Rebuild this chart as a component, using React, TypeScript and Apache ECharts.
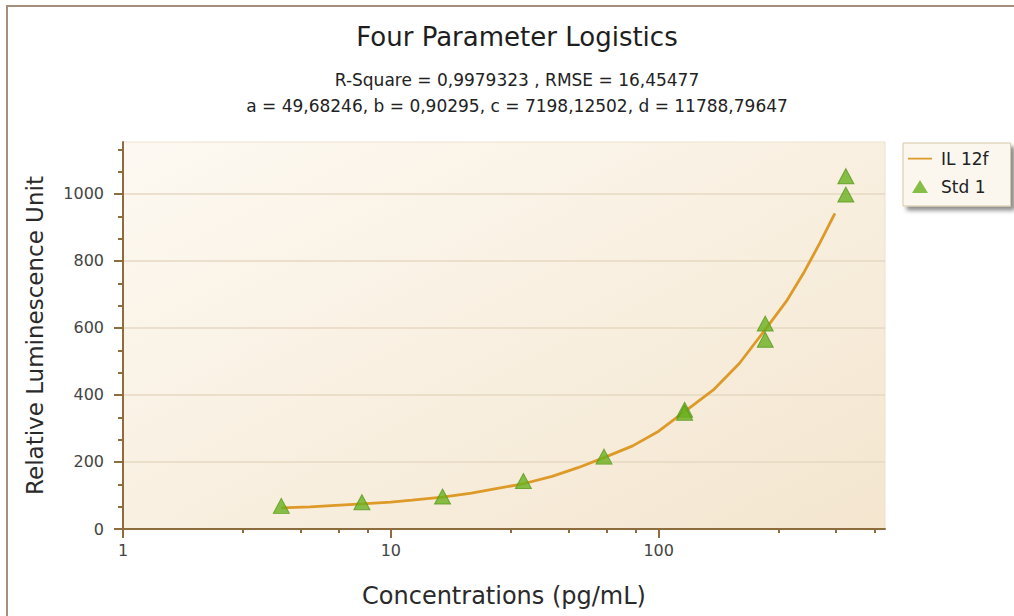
import React, { useEffect, useRef } from "react";
import * as echarts from "echarts";

const FONT = "DejaVu Sans";

const titleText = "Four Parameter Logistics";
const subLine1 = "R-Square = 0,9979323 , RMSE = 16,45477";
const subLine2 = "a = 49,68246, b = 0,90295, c = 7198,12502, d = 11788,79647";

const stdConc = [3.9, 7.8, 15.6, 31.25, 62.5, 125, 125, 250, 250, 500, 500];
const stdRLU = [69, 80, 97, 143, 216, 356, 347, 613, 565, 1053, 998];

const curveConc = [3.9, 5, 6, 7.8, 10, 12, 15.6, 20, 25, 31.25, 40, 50, 62.5, 80, 100, 125, 160, 200, 250, 300, 350, 400, 455];
const curveRLU = [63, 66, 70, 75, 80, 86, 95, 107, 121, 135, 157, 183, 213, 248, 292, 350, 415, 494, 595, 680, 768, 854, 942];

const xLabelTicks = [1, 10, 100];
const xMinorTicks = [2.8, 4.6, 6.4, 8.2, 28, 46, 64, 82, 280, 460, 640];
const yLabelTicks = [0, 200, 400, 600, 800, 1000];
const yMinorTicks = [66.7, 133.3, 266.7, 333.3, 466.7, 533.3, 666.7, 733.3, 866.7, 933.3, 1066.7, 1133.3];

const AXIS = "#8d6d3d";
const LINE_COLOR = "#dd9a28";
const MARK_COLOR = "#69b01e";

// legend icons: tiny corner specks keep the icon box at 24x14
const LINE_ICON = "path://M0,0L0.01,0L0,0.01Z M24,14L23.99,14L24,13.99Z M0,6.2H24V8H0Z";
const TRI_ICON = "path://M0,0L0.01,0L0,0.01Z M24,14L23.99,14L24,13.99Z M4,13.5L12,0.5L20,13.5Z";

export default function App() {
  const ref = useRef<HTMLDivElement>(null);
  useEffect(() => {
    if (!ref.current) return;
    const chart = echarts.init(ref.current, undefined, { renderer: "svg" });
    const curve = curveConc.map((c, i) => [c, curveRLU[i]]);
    const std = stdConc.map((c, i) => [c, stdRLU[i]]);
    chart.setOption({
      animation: false,
      backgroundColor: "#ffffff",
      title: [
        {
          text: titleText,
          left: 517,
          top: 24,
          padding: 0,
          textAlign: "center",
          textStyle: { fontFamily: FONT, fontSize: 26, fontWeight: "normal", color: "#1e1e1e" },
        },
        {
          text: subLine1,
          left: 517,
          top: 71,
          padding: 0,
          textAlign: "center",
          textStyle: { fontFamily: FONT, fontSize: 17, fontWeight: "normal", color: "#222" },
        },
        {
          text: subLine2,
          left: 517,
          top: 97,
          padding: 0,
          textAlign: "center",
          textStyle: { fontFamily: FONT, fontSize: 17, fontWeight: "normal", color: "#222" },
        },
      ],
      legend: {
        orient: "vertical",
        left: 903,
        top: 143,
        padding: [7, 22, 11, 5],
        itemGap: 11,
        itemWidth: 24,
        itemHeight: 14,
        backgroundColor: "#fbf6ee",
        borderColor: "#d8c6a4",
        borderWidth: 1,
        shadowColor: "rgba(0,0,0,0.45)",
        shadowBlur: 4,
        shadowOffsetX: 4,
        shadowOffsetY: 4,
        textStyle: { fontFamily: FONT, fontSize: 17, color: "#222", padding: [0, 0, 0, 4] },
        data: [
          { name: "IL 12f", icon: LINE_ICON, itemStyle: { color: LINE_COLOR } },
          { name: "Std 1", icon: TRI_ICON, itemStyle: { color: MARK_COLOR, borderWidth: 0 } },
        ],
      },
      grid: {
        left: 123,
        right: 129,
        top: 142,
        bottom: 87,
        show: true,
        borderColor: "#ece1cc",
        borderWidth: 1,
        backgroundColor: {
          type: "linear",
          x: 0,
          y: 0,
          x2: 1,
          y2: 1,
          colorStops: [
            { offset: 0, color: "#fdf9f2" },
            { offset: 1, color: "#f4e6cf" },
          ],
        },
        outerBoundsMode: "none",
      },
      xAxis: [
        {
          type: "log",
          logBase: 10,
          min: 1,
          max: 700,
          position: "bottom",
          name: "Concentrations (pg/mL)",
          nameLocation: "middle",
          nameGap: 55,
          nameTextStyle: { fontFamily: FONT, fontSize: 24, color: "#2a2a2a" },
          axisLine: { show: true, lineStyle: { color: AXIS, width: 2 } },
          axisTick: { show: true, customValues: xLabelTicks, length: 9, lineStyle: { color: AXIS, width: 2 } },
          axisLabel: {
            customValues: xLabelTicks,
            margin: 13,
            fontFamily: FONT,
            fontSize: 16,
            color: "#444",
            formatter: (v: number) => String(v),
          },
          splitLine: { show: false },
          minorTick: { show: false },
        },
        {
          type: "log",
          logBase: 10,
          min: 1,
          max: 700,
          position: "bottom",
          axisLine: { show: false },
          axisTick: { show: true, customValues: xMinorTicks, length: 4, lineStyle: { color: AXIS, width: 2 } },
          axisLabel: { show: false },
          splitLine: { show: false },
        },
      ],
      yAxis: [
        {
          type: "value",
          min: 0,
          max: 1155,
          interval: 200,
          position: "left",
          name: "Relative Luminescence Unit",
          nameLocation: "middle",
          nameGap: 77,
          nameTextStyle: { fontFamily: FONT, fontSize: 23, color: "#2a2a2a" },
          axisLine: { show: true, lineStyle: { color: AXIS, width: 2 } },
          axisTick: { show: true, customValues: yLabelTicks, length: 9, lineStyle: { color: AXIS, width: 2 } },
          axisLabel: {
            customValues: yLabelTicks,
            margin: 19,
            fontFamily: FONT,
            fontSize: 16,
            color: "#444",
            formatter: (v: number) => String(v),
          },
          splitLine: { show: true, lineStyle: { color: "#e6d9c2", width: 1.5 } },
        },
        {
          type: "value",
          min: 0,
          max: 1155,
          interval: 200,
          position: "left",
          axisLine: { show: false },
          axisTick: { show: true, customValues: yMinorTicks, length: 5, lineStyle: { color: AXIS, width: 2 } },
          axisLabel: { show: false },
          splitLine: { show: false },
        },
      ],
      graphic: [
        {
          type: "rect",
          silent: true,
          shape: { x: 7, y: 6, width: 1100, height: 700 },
          style: { fill: "none", stroke: "#a58e7c", lineWidth: 2 },
          z: 100,
        },
      ],
      series: [
        {
          name: "IL 12f",
          type: "line",
          xAxisIndex: 0,
          yAxisIndex: 0,
          data: curve,
          symbol: "none",
          showSymbol: false,
          smooth: false,
          lineStyle: { color: LINE_COLOR, width: 2.8 },
          itemStyle: { color: LINE_COLOR },
          z: 2,
        },
        {
          name: "Std 1",
          type: "scatter",
          xAxisIndex: 0,
          yAxisIndex: 0,
          data: std,
          symbol: "triangle",
          symbolSize: [16, 15],
          itemStyle: { color: MARK_COLOR, borderColor: "#58991a", borderWidth: 1 },
          z: 3,
        },
      ],
    });
    return () => chart.dispose();
  }, []);
  return (
    <div
      ref={ref}
      style={{ position: "fixed", left: 0, top: 0, width: 1014, height: 616 }}
    />
  );
}
